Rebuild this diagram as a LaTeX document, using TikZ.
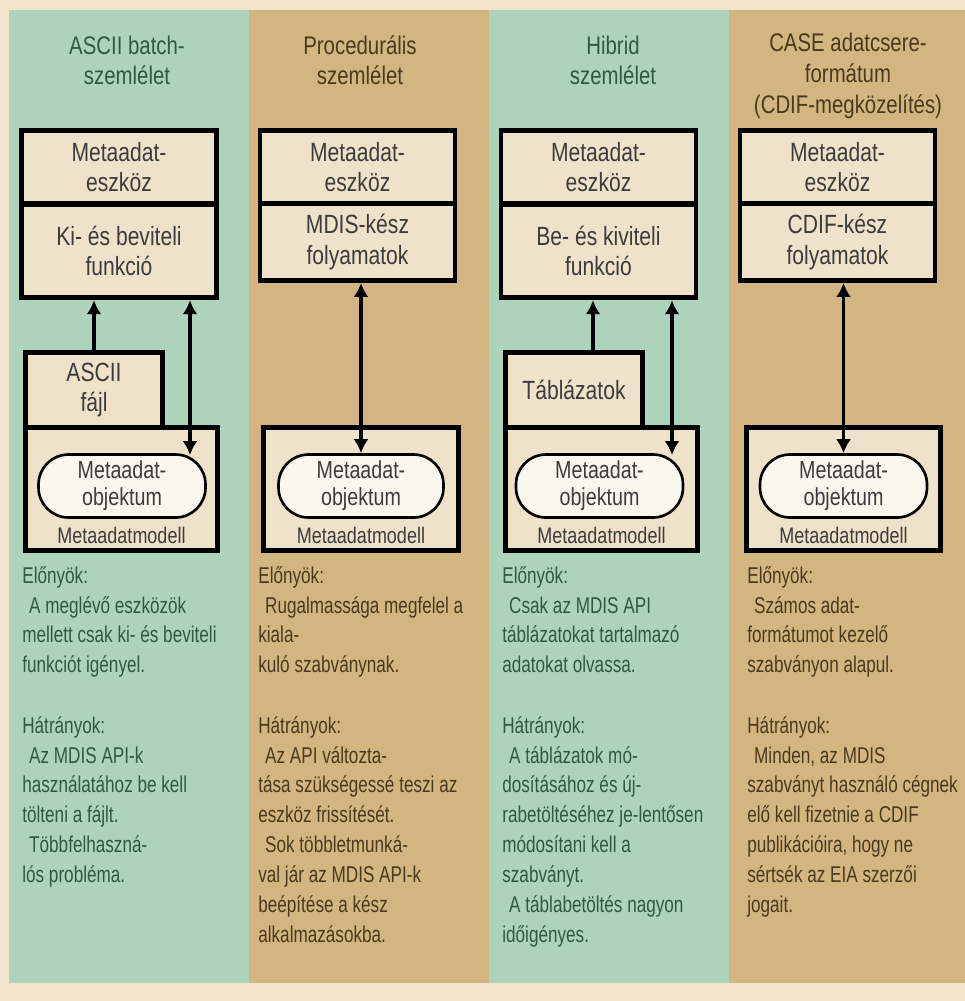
\documentclass[tikz,border=0pt]{standalone}
\usepackage{fontspec}
\setmainfont[FakeStretch=0.8]{Liberation Sans}
\newfontfamily\narrowfont[FakeStretch=0.75]{Liberation Sans}
\usepackage{tikz}
\usepackage{xcolor}
\usetikzlibrary{arrows.meta,positioning,shapes,calc}
\definecolor{pagebg}{HTML}{F1E4CB}
\definecolor{seagreen}{HTML}{ADD3BC}
\definecolor{sand}{HTML}{D3B582}
\definecolor{boxfill}{HTML}{EFE2CA}
\definecolor{objfill}{HTML}{FBF7EE}
\definecolor{greenink}{HTML}{2E5B3D}
\definecolor{brownink}{HTML}{4B3A1A}
\definecolor{boxink}{HTML}{3C3C3C}
\newcommand{\ind}{\hspace*{0.3em}}
\tikzset{
  comp/.style={draw=black,fill=boxfill,line width=2.8pt,align=center,
               inner sep=0pt,minimum width=39mm,text=boxink,
               font=\fontsize{15}{17.5}\selectfont},
  filebox/.style={comp,minimum width=27.4mm,minimum height=15mm},
  modelbox/.style={draw=black,fill=boxfill,line width=2.8pt,inner sep=0pt,
                   minimum height=24.6mm},
  objnode/.style={draw=black,fill=objfill,line width=1.5pt,rounded corners=6mm,
                  minimum width=33.4mm,minimum height=12.6mm,align=center,
                  inner sep=0pt,text=boxink,font=\fontsize{14}{15.5}\selectfont},
  modlabel/.style={text=boxink,inner sep=0pt,font=\fontsize{12.8}{14}\selectfont},
  headtext/.style={align=center,inner sep=0pt,font=\fontsize{14.5}{17}\selectfont},
  bodytext/.style={align=left,inner sep=0pt,anchor=north west,
                   font=\narrowfont\fontsize{13}{17}\selectfont},
  uparr/.style={-{Latex[length=2.8mm,width=3mm]},line width=2.2pt,draw=black},
  bothwayarr/.style={{Latex[length=2.8mm,width=3mm]}-{Latex[length=2.8mm,width=3mm]},
                     line width=2.2pt,draw=black}
}
\begin{document}
\begin{tikzpicture}[x=0.2mm,y=-0.2mm]
  \path[use as bounding box] (0,0) rectangle (965,1001);
  \fill[pagebg] (0,0) rectangle (965,1001);
  % column backgrounds
  \fill[seagreen] (9,10) rectangle (249,983);
  \fill[sand] (249,10) rectangle (489,983);
  \fill[seagreen] (489,10) rectangle (729,983);
  \fill[sand] (729,10) rectangle (965,983);

  % ASCII batch
  \node[headtext,text=greenink] (title1) at (127,60) {ASCII batch-\\szemlélet};
  \node[comp,minimum height=14.7mm] (tool1) at (119,167) {Metaadat-\\eszköz};
  \node[comp,minimum height=18.7mm] (func1) at (119,251) {Ki- és beviteli\\funkció};
  \node[modelbox,minimum width=38.4mm] (model1) at (121.5,489) {};
  \node[filebox] (file1) at (94,390) {ASCII\\fájl};
  \node[objnode] (obj1) at (122,486) {Metaadat-\\objektum};
  \node[modlabel] (modlab1) at (121.5,535) {Metaadatmodell};
  \coordinate (end1) at (190,455);
  \draw[uparr] (file1.north) -- (file1.north |- func1.south);
  \draw[bothwayarr] (func1.south -| end1) -- (end1);

  % Procedural
  \node[headtext,text=brownink] (title2) at (360,60) {Procedurális\\szemlélet};
  \node[comp,minimum height=14.7mm] (tool2) at (357.5,167) {Metaadat-\\eszköz};
  \node[comp,minimum height=15.3mm] (func2) at (357.5,242.25) {MDIS-kész\\folyamatok};
  \node[modelbox,minimum width=39mm] (model2) at (361,489) {};
  \node[objnode,minimum width=33mm] (obj2) at (361,486) {Metaadat-\\objektum};
  \node[modlabel] (modlab2) at (361,535) {Metaadatmodell};
  \draw[bothwayarr] (func2.south -| obj2.north) -- (obj2.north);

  % Hybrid
  \node[headtext,text=greenink] (title3) at (613,60) {Hibrid\\szemlélet};
  \node[comp,minimum height=14.7mm] (tool3) at (598.5,167) {Metaadat-\\eszköz};
  \node[comp,minimum height=18.7mm] (func3) at (598.5,251) {Be- és kiviteli\\funkció};
  \node[modelbox,minimum width=38.4mm] (model3) at (601.5,489) {};
  \node[filebox] (file3) at (574,390) {Táblázatok};
  \node[objnode] (obj3) at (599.5,486) {Metaadat-\\objektum};
  \node[modlabel] (modlab3) at (601.5,535) {Metaadatmodell};
  \coordinate (end3) at (672,455);
  \draw[uparr] (file3.north -| 593,0) -- (func3.south -| 593,0);
  \draw[bothwayarr] (func3.south -| end3) -- (end3);

  % CDIF
  \node[headtext,text=brownink,font=\fontsize{14.5}{17.8}\selectfont] (title4) at (848,76)
    {CASE adatcsere-\\formátum\\(CDIF-megközelítés)};
  \node[comp,minimum height=14.7mm] (tool4) at (837.5,167) {Metaadat-\\eszköz};
  \node[comp,minimum height=15.3mm] (func4) at (837.5,242.25) {CDIF-kész\\folyamatok};
  \node[modelbox,minimum width=38.8mm] (model4) at (843.5,489) {};
  \node[objnode] (obj4) at (843.5,486) {Metaadat-\\objektum};
  \node[modlabel] (modlab4) at (843.5,535) {Metaadatmodell};
  \draw[bothwayarr] (func4.south -| obj4.north) -- (obj4.north);

  % pros and cons
  \node[bodytext,text=greenink] (pros1) at (22,566)
    {Előnyök:\\\ind A meglévő eszközök\\mellett csak ki- és beviteli\\funkciót igényel.};
  \node[bodytext,text=greenink] (cons1) at (22,716)
    {Hátrányok:\\\ind Az MDIS API-k\\használatához be kell\\tölteni a fájlt.\\\ind Többfelhaszná-\\lós probléma.};
  \node[bodytext,text=brownink] (pros2) at (258,566)
    {Előnyök:\\\ind Rugalmassága megfelel a\\kiala-\\kuló szabványnak.};
  \node[bodytext,text=brownink] (cons2) at (258,716)
    {Hátrányok:\\\ind Az API változta-\\tása szükségessé teszi az\\eszköz frissítését.\\\ind Sok többletmunká-\\val jár az MDIS API-k\\beépítése a kész\\alkalmazásokba.};
  \node[bodytext,text=greenink] (pros3) at (502,566)
    {Előnyök:\\\ind Csak az MDIS API\\táblázatokat tartalmazó\\adatokat olvassa.};
  \node[bodytext,text=greenink] (cons3) at (502,716)
    {Hátrányok:\\\ind A táblázatok mó-\\dosításához és új-\\rabetöltéséhez je-lentősen\\módosítani kell a\\szabványt.\\\ind A táblabetöltés nagyon\\időigényes.};
  \node[bodytext,text=brownink] (pros4) at (747,566)
    {Előnyök:\\\ind Számos adat-\\formátumot kezelő\\szabványon alapul.};
  \node[bodytext,text=brownink] (cons4) at (747,716)
    {Hátrányok:\\\ind Minden, az MDIS\\szabványt használó cégnek\\elő kell fizetnie a CDIF\\publikációira, hogy ne\\sértsék az EIA szerzői\\jogait.};
\end{tikzpicture}
\end{document}
